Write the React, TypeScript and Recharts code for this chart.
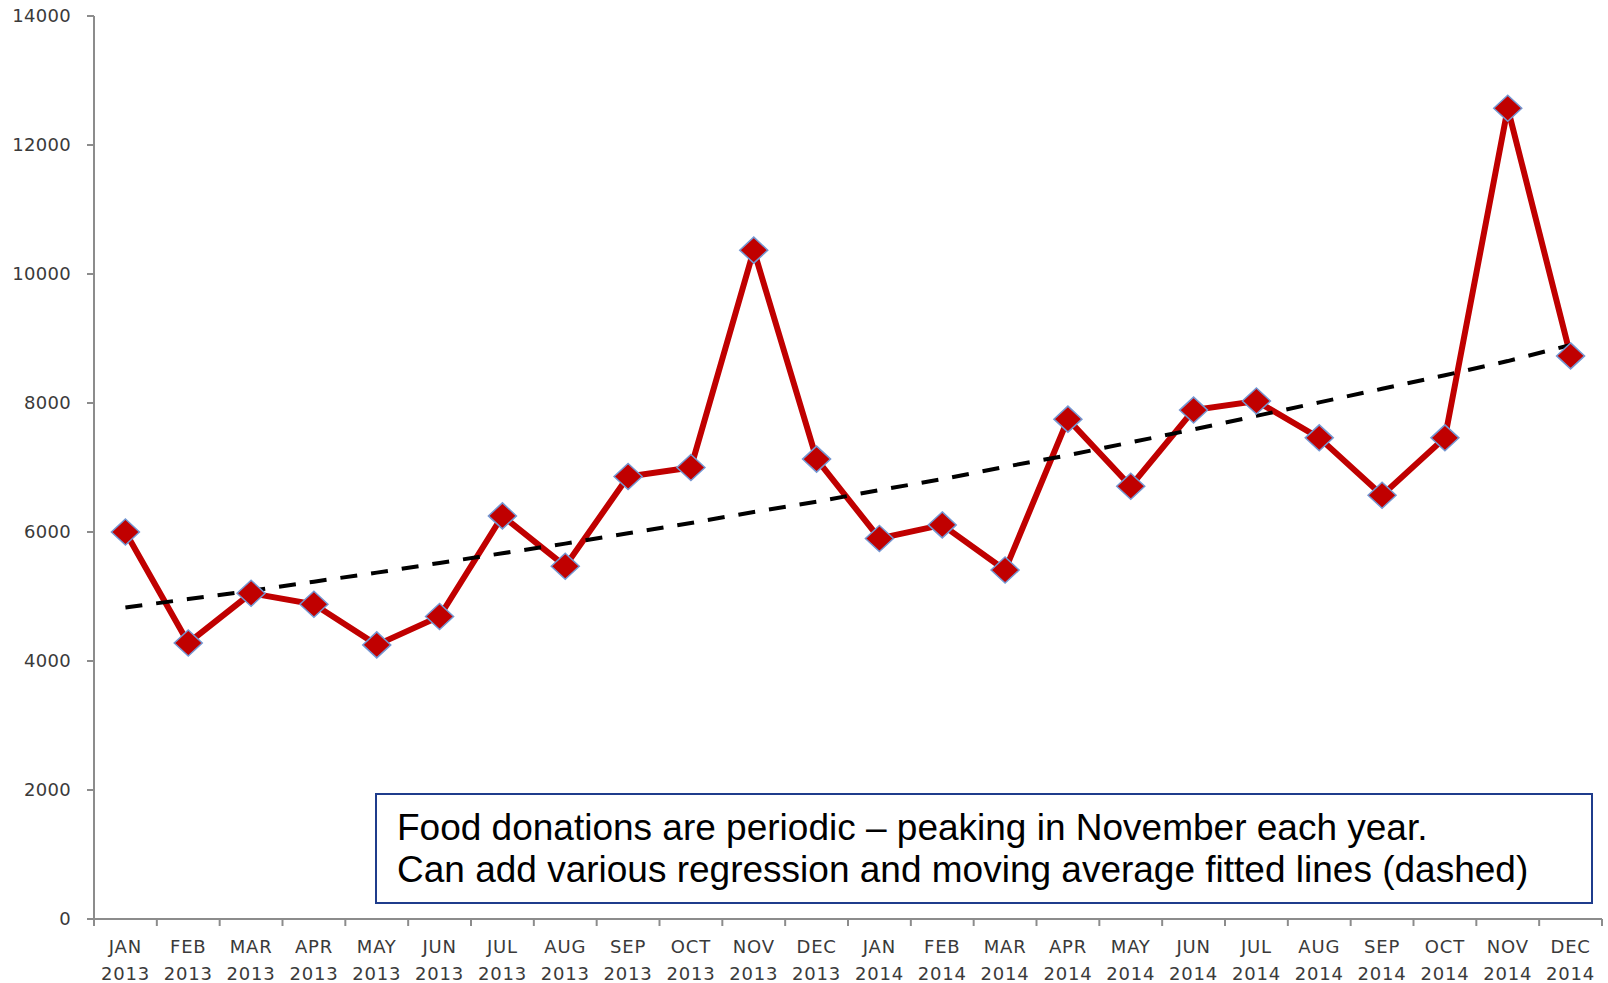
import React from 'react';
import { LineChart, Line, XAxis, YAxis } from 'recharts';

const months = ['JAN', 'FEB', 'MAR', 'APR', 'MAY', 'JUN', 'JUL', 'AUG', 'SEP', 'OCT', 'NOV', 'DEC',
  'JAN', 'FEB', 'MAR', 'APR', 'MAY', 'JUN', 'JUL', 'AUG', 'SEP', 'OCT', 'NOV', 'DEC'];
const years = ['2013', '2013', '2013', '2013', '2013', '2013', '2013', '2013', '2013', '2013', '2013', '2013',
  '2014', '2014', '2014', '2014', '2014', '2014', '2014', '2014', '2014', '2014', '2014', '2014'];
const donations = [6000, 4280, 5050, 4880, 4250, 4690, 6250, 5470, 6860, 7000, 10370, 7130,
  5900, 6110, 5410, 7750, 6710, 7890, 8030, 7460, 6570, 7460, 12570, 8730];
// fitted trend (dashed) at each month
const trend = [4830, 4960, 5090, 5230, 5370, 5520, 5670, 5820, 5980, 6140, 6310, 6470,
  6650, 6820, 7010, 7190, 7390, 7590, 7800, 8010, 8220, 8430, 8650, 8900];
const yTicks = [0, 2000, 4000, 6000, 8000, 10000, 12000, 14000];
const noteLines = [
  'Food donations are periodic \u2013 peaking in November each year.',
  'Can add various regression and moving average fitted lines (dashed)',
];

const data = months.map((m, i) => ({
  cat: `${m} ${years[i]}`,
  month: m,
  year: years[i],
  value: donations[i],
  trend: trend[i],
}));

const AXIS_COLOR = '#8c8c8c';
const LABEL_COLOR = '#3a3a3a';
const FONT = '"DejaVu Sans", Verdana, sans-serif';

const Diamond = (props: any) => {
  const { cx, cy, index } = props;
  if (cx == null || cy == null) return null;
  return (
    <path
      key={`d-${index}`}
      d={`M${cx},${cy - 13} L${cx + 14},${cy} L${cx},${cy + 13} L${cx - 14},${cy} Z`}
      fill="#C00000"
      stroke="#7497D2"
      strokeWidth={1.5}
    />
  );
};

const XTick = (props: any) => {
  const { x, y, payload, index, visibleTicksCount } = props;
  const half = payload && payload.offset ? payload.offset : 31.4;
  const axisY = y - 7;
  const d = data[index];
  const isLast = index === (visibleTicksCount ?? data.length) - 1;
  return (
    <g>
      <line x1={x - half} x2={x - half} y1={axisY} y2={axisY + 7} stroke={AXIS_COLOR} strokeWidth={2} />
      {isLast && (
        <line x1={x + half} x2={x + half} y1={axisY} y2={axisY + 7} stroke={AXIS_COLOR} strokeWidth={2} />
      )}
      <text x={x} y={axisY + 34} textAnchor="middle" fill={LABEL_COLOR} fontSize={18} letterSpacing={0.8} fontFamily={FONT}>
        {d ? d.month : ''}
      </text>
      <text x={x} y={axisY + 61} textAnchor="middle" fill={LABEL_COLOR} fontSize={18} letterSpacing={0.8} fontFamily={FONT}>
        {d ? d.year : ''}
      </text>
    </g>
  );
};

export default function App() {
  return (
    <div style={{ position: 'absolute', left: 0, top: 0, width: 1608, height: 983, overflow: 'hidden', background: '#fff' }}>
      <LineChart
        width={1608}
        height={983}
        data={data}
        margin={{ top: 16, right: 6, bottom: 4, left: 0 }}
      >
        <XAxis
          dataKey="cat"
          scale="band"
          interval={0}
          tickLine={false}
          tickSize={7}
          tickMargin={0}
          height={60}
          axisLine={{ stroke: AXIS_COLOR, strokeWidth: 2 }}
          tick={<XTick />}
        />
        <YAxis
          width={94}
          domain={[0, 14000]}
          ticks={yTicks}
          interval={0}
          tickSize={7}
          tickMargin={16}
          axisLine={{ stroke: AXIS_COLOR, strokeWidth: 2 }}
          tickLine={{ stroke: AXIS_COLOR, strokeWidth: 2 }}
          tick={{ fill: LABEL_COLOR, fontSize: 18, fontFamily: FONT, letterSpacing: 0.3 }}
        />
        <Line
          dataKey="value"
          type="linear"
          stroke="#C00000"
          strokeWidth={6}
          dot={<Diamond />}
          activeDot={false}
          isAnimationActive={false}
        />
        <Line
          dataKey="trend"
          type="linear"
          stroke="#000"
          strokeWidth={4}
          strokeDasharray="17 14"
          dot={false}
          activeDot={false}
          isAnimationActive={false}
        />
      </LineChart>
      <svg width={1608} height={983} style={{ position: 'absolute', left: 0, top: 0, pointerEvents: 'none' }}>
        <rect x={376} y={794} width={1216} height={109} fill="#fff" stroke="#1F3C8C" strokeWidth={2} />
        <text x={397} y={840} fontSize={37} fontFamily='"Liberation Sans", Arial, sans-serif' fill="#000">
          {noteLines[0]}
        </text>
        <text x={397} y={882} fontSize={37} fontFamily='"Liberation Sans", Arial, sans-serif' fill="#000">
          {noteLines[1]}
        </text>
      </svg>
    </div>
  );
}
